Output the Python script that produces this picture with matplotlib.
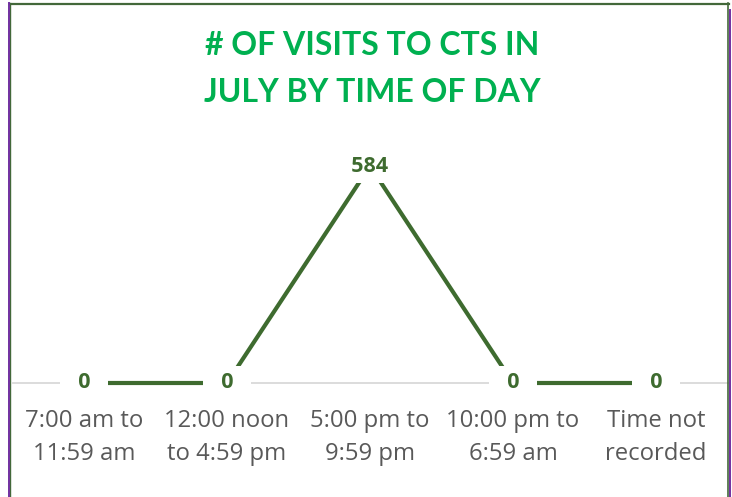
import matplotlib
matplotlib.use("Agg")
import matplotlib.pyplot as plt
from matplotlib.lines import Line2D

categories = ["7:00 am to\n11:59 am", "12:00 noon\nto 4:59 pm", "5:00 pm to\n9:59 pm",
              "10:00 pm to\n6:59 am", "Time not\nrecorded"]
visits = [0, 0, 584, 0, 0]
title = "# OF VISITS TO CTS IN\nJULY BY TIME OF DAY"

W, H = 732, 497
fig = plt.figure(figsize=(W / 100, H / 100), dpi=100)
plt.rcParams['font.family'] = ['Lato', 'DejaVu Sans']

line_green = '#3E6B2F'
ax_left, ax_right = 12.5, 727.5
ax_bot, ax_top = 383, 166
ax = fig.add_axes([ax_left / W, (H - ax_bot) / H, (ax_right - ax_left) / W, (ax_bot - ax_top) / H])
ax.set_xlim(-0.5, len(categories) - 0.5)
ax.set_ylim(0, 584)
ax.patch.set_alpha(0)
for s in ['top', 'right', 'left']:
    ax.spines[s].set_visible(False)
ax.spines['bottom'].set_color('#D9D9D9')
ax.spines['bottom'].set_linewidth(1.3)
ax.spines['bottom'].set_zorder(1)
ax.set_yticks([])
x = list(range(len(categories)))
ax.set_xticks(x)
ax.set_xticklabels(categories, fontsize=17.2, color='#595959', linespacing=1.5,
                   family=['Open Sans', 'DejaVu Sans'])
ax.tick_params(axis='x', length=0, pad=19)

ax.plot(x, visits, color=line_green, linewidth=3, solid_capstyle='butt', zorder=2, clip_on=False)
for xi, v in zip(x, visits):
    ax.text(xi, v, f"  {v}  ", ha='center', va='center', fontsize=15.5, fontweight='bold',
            color=line_green, zorder=3, family=['Open Sans', 'DejaVu Sans'],
            bbox=dict(boxstyle='square,pad=0.3', fc='white', ec='none'))

fig.text(372 / W, 1 - 69 / H, title, ha='center', va='center', fontsize=23, fontweight='bold',
         color='#00B050', linespacing=1.75)

# frame
def vline(xp, y0, y1, c, lw):
    fig.add_artist(Line2D([xp / W, xp / W], [1 - y0 / H, 1 - y1 / H], color=c, linewidth=lw,
                          transform=fig.transFigure))
def hline(y, x0, x1, c, lw):
    fig.add_artist(Line2D([x0 / W, x1 / W], [1 - y / H, 1 - y / H], color=c, linewidth=lw,
                          transform=fig.transFigure))
frame_green = '#43683A'
hline(4, 9.5, 728.5, frame_green, 1.6)
vline(10, 3, 497, frame_green, 1.0)
vline(728, 3, 497, frame_green, 1.2)
vline(8.5, 3, 497, '#7030A0', 1.4)
vline(730.3, 10, 497, '#7030A0', 1.4)

fig.savefig("out.png", dpi=100)
